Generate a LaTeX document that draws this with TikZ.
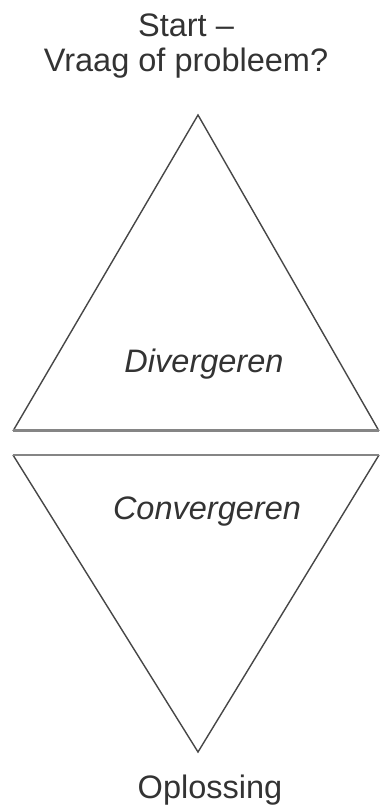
\documentclass[tikz,border=0pt]{standalone}
\usepackage{fontspec}
\setmainfont{Liberation Sans}
\usetikzlibrary{positioning}

\begin{document}
\begin{tikzpicture}[
  x=1cm, y=1cm,
  side/.style={draw=black!72, line width=0.8pt, line join=miter},
  baseline/.style={draw=black!48, line width=1.7pt},
  label/.style={font=\fontsize{18.5}{19.9}\selectfont, text=black!80, align=center, inner sep=0pt},
  phase/.style={font=\fontsize{18.5}{19.9}\selectfont\itshape, text=black!80, inner sep=0pt}
]
  \useasboundingbox (0,0) rectangle (7.6,16.14);

  % diverging triangle
  \coordinate (topapex) at (3.96,13.84);
  \coordinate (topleft) at (0.26,7.52);
  \coordinate (topright) at (7.58,7.52);
  \draw[side] (topleft) -- (topapex) -- (topright);
  \draw[baseline] (topleft) -- (topright);

  % converging triangle
  \coordinate (botleft) at (0.26,7.04);
  \coordinate (botright) at (7.58,7.04);
  \coordinate (botapex) at (3.96,1.10);
  \draw[side] (botleft) -- (botapex) -- (botright);
  \draw[baseline] (botleft) -- (botright);

  \node[label] (start) at (3.72,15.21) {Start --\\Vraag of probleem?};
  \node[phase] (diverge) at (4.08,8.86) {Divergeren};
  \node[phase] (converge) at (4.14,5.90) {Convergeren};
  \node[label] (solution) at (4.20,0.34) {Oplossing};
\end{tikzpicture}
\end{document}
